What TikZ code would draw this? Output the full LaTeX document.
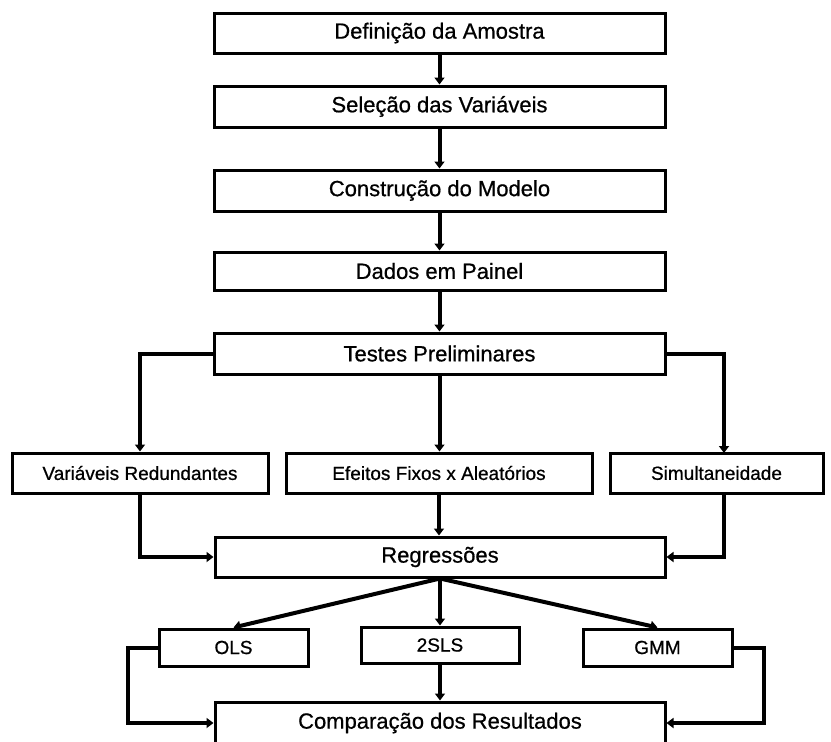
\documentclass[tikz,border=0pt]{standalone}
\usepackage{fontspec}
\setmainfont[FakeBold=0.7]{Liberation Sans}
\usetikzlibrary{arrows.meta,calc}
\begin{document}
\begin{tikzpicture}[x=1pt,y=-1pt,
  bigbox/.style={draw=black,line width=3pt,fill=white,inner sep=0pt,
    minimum width=451pt,font=\fontsize{22}{26}\selectfont},
  smallbox/.style={draw=black,line width=3pt,fill=white,inner sep=0pt,
    minimum height=40pt,font=\fontsize{19}{22}\selectfont},
  conn/.style={line width=4pt,-{Triangle[width=10pt,length=7pt]}}]
\useasboundingbox (0,0) rectangle (831,742);
\clip (0,0) rectangle (831,742);
\fill[white] (0,0) rectangle (831,742);
% main column
\node[bigbox,minimum height=40pt] (d1) at (439.5,33) {Definição da Amostra};
\node[bigbox,minimum height=41pt] (d2) at (439.5,106.5) {Seleção das Variáveis};
\node[bigbox,minimum height=41pt] (d3) at (439.5,190.5) {Construção do Modelo};
\node[bigbox,minimum height=38pt] (d4) at (439.5,271) {Dados em Painel};
\node[bigbox,minimum height=41pt] (d5) at (439.5,353.5) {Testes Preliminares};
% tests row
\node[smallbox,minimum width=256pt] (vr) at (140,473) {Variáveis Redundantes};
\node[smallbox,minimum width=306pt] (ef) at (439,473) {Efeitos Fixos x Aleatórios};
\node[smallbox,minimum width=213pt] (si) at (716.5,473) {Simultaneidade};
\coordinate (sitop) at (724,453);
\coordinate (sibot) at (724,493);
% regressions
\node[bigbox,minimum height=40pt,minimum width=450pt] (reg) at (440,557) {Regressões};
% methods
\node[smallbox,minimum width=149pt,minimum height=37pt] (ols) at (233.5,647.5) {OLS};
\node[smallbox,minimum width=158pt,minimum height=36pt] (sls) at (440,645) {2SLS};
\node[smallbox,minimum width=149pt,minimum height=37pt] (gmm) at (657.5,647.5) {GMM};
% comparison
\node[bigbox,minimum height=42pt,minimum width=450pt] (comp) at (440,723) {Comparação dos Resultados};
% connectors
\draw[conn] (d1.south) -- (d2.north);
\draw[conn] (d2.south) -- (d3.north);
\draw[conn] (d3.south) -- (d4.north);
\draw[conn] (d4.south) -- (d5.north);
\draw[conn] (d5.west) -| (vr.north);
\draw[conn] (d5.south) -- (d5.south |- ef.north);
\draw[conn] (d5.east) -| (sitop);
\draw[conn] (vr.south) |- (reg.west);
\draw[conn] (ef.south) -- (ef.south |- reg.north);
\draw[conn] (sibot) |- (reg.east);
\draw[conn] (reg.south) -- (ols.north);
\draw[conn] (reg.south) -- (reg.south |- sls.north);
\draw[conn] (reg.south) -- (gmm.north);
\draw[conn] (ols.west) -- ++(-30,0) |- (comp.west);
\draw[conn] (sls.south) -- (sls.south |- comp.north);
\draw[conn] (gmm.east) -- ++(30,0) |- (comp.east);
\end{tikzpicture}
\end{document}
